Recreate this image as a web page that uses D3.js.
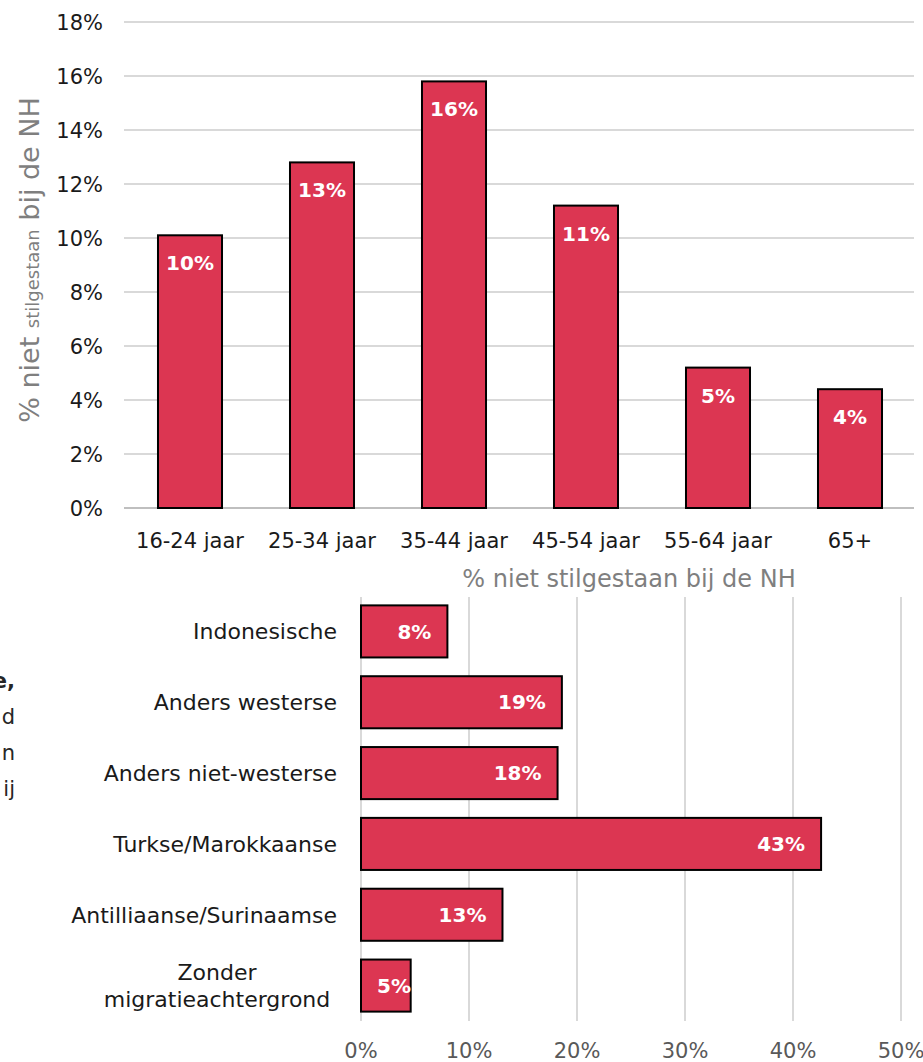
<!DOCTYPE html>
<html><head><meta charset="utf-8">
<script src="https://cdn.jsdelivr.net/npm/d3@7"></script>
<style>
html,body{margin:0;padding:0;background:#fff;}
svg{display:block;font-family:"DejaVu Sans",sans-serif;}
</style></head>
<body>
<svg id="c" width="923" height="1062"></svg>
<script>
// ---- data ----
const ageCategories = ["16-24 jaar","25-34 jaar","35-44 jaar","45-54 jaar","55-64 jaar","65+"];
const ageValues = [10.1, 12.8, 15.8, 11.2, 5.2, 4.4];
const ageTicks = [0,2,4,6,8,10,12,14,16,18];

const migCategories = ["Indonesische","Anders westerse","Anders niet-westerse","Turkse/Marokkaanse","Antilliaanse/Surinaamse","Zonder\nmigratieachtergrond"];
const migValues = [8.0, 18.6, 18.2, 42.6, 13.1, 4.6];
const migTicks = [0,10,20,30,40,50];

const sideText = [{t:"e,",b:true},{t:"d",b:false},{t:"n",b:false},{t:"ij",b:false}];

const fill = "#DC3652";
const svg = d3.select("#c");

// ---- side clipped paragraph ----
svg.append("g").selectAll("text").data(sideText).join("text")
  .attr("x", 15).attr("y", (d,i)=>688 + i*36)
  .attr("text-anchor","end").attr("font-size",21)
  .attr("font-weight", d=>d.b?"bold":"normal").attr("fill","#262626")
  .text(d=>d.t);

// ---- top chart ----
const x1 = d3.scaleBand().domain(ageCategories).range([124,916]).paddingInner(0.515).paddingOuter(0.2575);
const y1 = d3.scaleLinear().domain([0,18]).range([508,22]);

const g1 = svg.append("g");
g1.selectAll("line.grid").data(ageTicks).join("line")
  .attr("x1",124).attr("x2",914)
  .attr("y1",d=>y1(d)).attr("y2",d=>y1(d))
  .attr("stroke", d=>d===0?"#bfbfbf":"#d9d9d9").attr("stroke-width",2);

g1.selectAll("text.tick").data(ageTicks).join("text")
  .attr("x",103).attr("y",d=>y1(d)).attr("dy","0.36em")
  .attr("text-anchor","end").attr("font-size",21).attr("fill","#1a1a1a")
  .text(d=>d+"%");

g1.selectAll("rect").data(ageValues).join("rect")
  .attr("x",(d,i)=>x1(ageCategories[i])).attr("width",x1.bandwidth())
  .attr("y",d=>y1(d)).attr("height",d=>y1(0)-y1(d))
  .attr("fill",fill).attr("stroke","#000").attr("stroke-width",2);

g1.selectAll("text.val").data(ageValues).join("text")
  .attr("x",(d,i)=>x1(ageCategories[i])+x1.bandwidth()/2)
  .attr("y",d=>y1(d)+35)
  .attr("text-anchor","middle").attr("font-size",20).attr("font-weight","bold").attr("fill","#fff")
  .text(d=>Math.round(d)+"%");

g1.selectAll("text.cat").data(ageCategories).join("text")
  .attr("x",d=>x1(d)+x1.bandwidth()/2).attr("y",548)
  .attr("text-anchor","middle").attr("font-size",21).attr("fill","#1a1a1a")
  .text(d=>d);

const yt = g1.append("text").attr("transform","translate(39,260) rotate(-90)")
  .attr("text-anchor","middle").attr("fill","#7f7f7f").attr("font-size",27);
yt.append("tspan").text("% niet ");
yt.append("tspan").attr("font-size",18).text("stilgestaan");
yt.append("tspan").text(" bij de NH");

// ---- bottom chart ----
const x2 = d3.scaleLinear().domain([0,50]).range([361,901]);
const y2 = d3.scaleBand().domain(migCategories).range([596,1021]).paddingInner(0.265).paddingOuter(0.1325);
const g2 = svg.append("g");

g2.selectAll("line.grid").data(migTicks).join("line")
  .attr("x1",d=>x2(d)).attr("x2",d=>x2(d))
  .attr("y1",597).attr("y2",1021)
  .attr("stroke","#d9d9d9").attr("stroke-width",2);

g2.selectAll("text.tick").data(migTicks).join("text")
  .attr("x",d=>x2(d)).attr("y",1058)
  .attr("text-anchor","middle").attr("font-size",21).attr("fill","#595959")
  .text(d=>d+"%");

g2.append("text").attr("x",629).attr("y",587).attr("text-anchor","middle")
  .attr("font-size",24).attr("fill","#7f7f7f").text("% niet stilgestaan bij de NH");

g2.selectAll("rect").data(migValues).join("rect")
  .attr("x",x2(0)).attr("width",d=>x2(d)-x2(0))
  .attr("y",(d,i)=>y2(migCategories[i])).attr("height",y2.bandwidth())
  .attr("fill",fill).attr("stroke","#000").attr("stroke-width",2);

g2.selectAll("text.val").data(migValues).join("text")
  .attr("x",d=>Math.max(x2(d)-16, x2(0)+50))
  .attr("y",(d,i)=>y2(migCategories[i])+y2.bandwidth()/2).attr("dy","0.36em")
  .attr("text-anchor","end").attr("font-size",20).attr("font-weight","bold").attr("fill","#fff")
  .text(d=>Math.round(d)+"%");

const cat = g2.selectAll("text.cat").data(migCategories).join("text")
  .attr("font-size",22).attr("fill","#1a1a1a");
cat.each(function(d){
  const lines = d.split("\n");
  const el = d3.select(this);
  const cy = y2(d)+y2.bandwidth()/2;
  if(lines.length===1){
    el.attr("x",337).attr("y",cy).attr("dy","0.36em").attr("text-anchor","end").text(d);
  } else {
    el.attr("text-anchor","middle");
    lines.forEach((l,i)=>{
      el.append("tspan").attr("x",217).attr("y",cy+(i-(lines.length-1)/2)*27).attr("dy","0.36em").text(l);
    });
  }
});
</script>
</body></html>
